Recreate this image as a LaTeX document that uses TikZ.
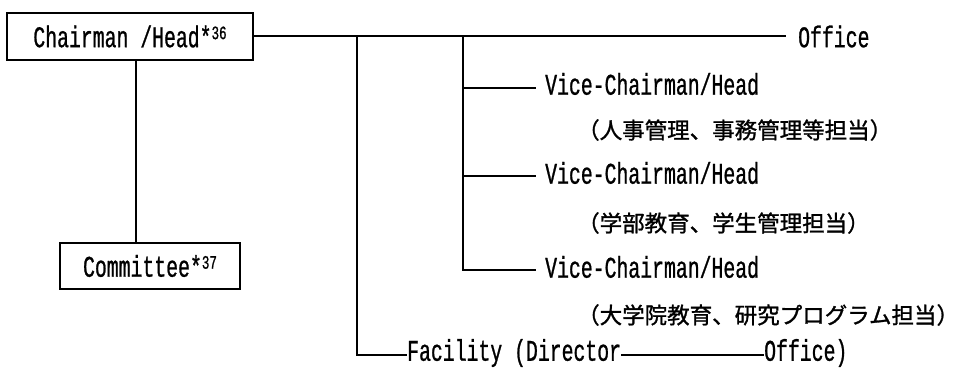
\documentclass[tikz,border=0pt]{standalone}
\usepackage{fontspec}
\newfontfamily\lat[FakeStretch=0.66,FakeBold=0.8]{Liberation Mono}
\newfontfamily\jp[FakeBold=1.2]{Noto Sans CJK JP}
\newcommand\supn[1]{\raisebox{8pt}{\fontsize{19}{19}\selectfont #1}}
\tikzset{
  ln/.style={line width=2pt},
  box/.style={draw, line width=2pt, rectangle, inner sep=0pt, font=\lat\fontsize{30}{30}\selectfont},
  lt/.style={inner ysep=0pt, anchor=west, font=\lat\fontsize{30}{30}\selectfont},
  jt/.style={inner sep=0pt, anchor=west, font=\jp\fontsize{22.5}{22.5}\selectfont},
}
\begin{document}
\begin{tikzpicture}[x=1pt,y=-1pt]
\useasboundingbox (0,0) rectangle (964,371);
% boxes
\node[box, minimum width=246pt, minimum height=47pt] (ch) at (130,36.5) {Chairman /Head*\supn{36}};
\node[box, minimum width=180pt, minimum height=46pt] (cm) at (150,266) {Committee*\supn{37}};
% top office
\node[lt, inner xsep=12pt] (off) at (786,36.5) {Office};
% vice chairmen
\node[lt, inner xsep=9pt] (vc1) at (536,84) {Vice-Chairman/Head};
\node[lt, inner xsep=9pt] (vc2) at (536,173) {Vice-Chairman/Head};
\node[lt, inner xsep=9pt] (vc3) at (536,267) {Vice-Chairman/Head};
\node[jt] (d1) at (577,130) {（人事管理、事務管理等担当）};
\node[jt] (d2) at (577,223) {（学部教育、学生管理担当）};
\node[jt] (d3) at (577,315) {（大学院教育、研究プログラム担当）};
% facility
\node[lt, inner xsep=0pt] (fac) at (407,353) {Facility (Director};
\node[lt, inner xsep=0pt] (fof) at (764,353) {Office)};
% coordinates
\coordinate (ja) at (357,36.5);
\coordinate (jb) at (463,36.5);
\coordinate (b1) at (463,88);
\coordinate (b2) at (463,176);
\coordinate (b3) at (463,270);
\coordinate (fc) at (357,355);
\coordinate (vx) at (136,150);
% connectors
\draw[ln] (ch.east) -- (off.west);
\draw[ln] (vx |- ch.south) -- (vx |- cm.north);
\draw[ln] (jb) -- (b3) -- (b3 -| vc3.west);
\draw[ln] (b1) -- (b1 -| vc1.west);
\draw[ln] (b2) -- (b2 -| vc2.west);
\draw[ln] (ja) -- (fc) -- (fc -| fac.west);
\draw[ln] (fac.east |- fc) -- (fof.west |- fc);
\end{tikzpicture}
\end{document}
